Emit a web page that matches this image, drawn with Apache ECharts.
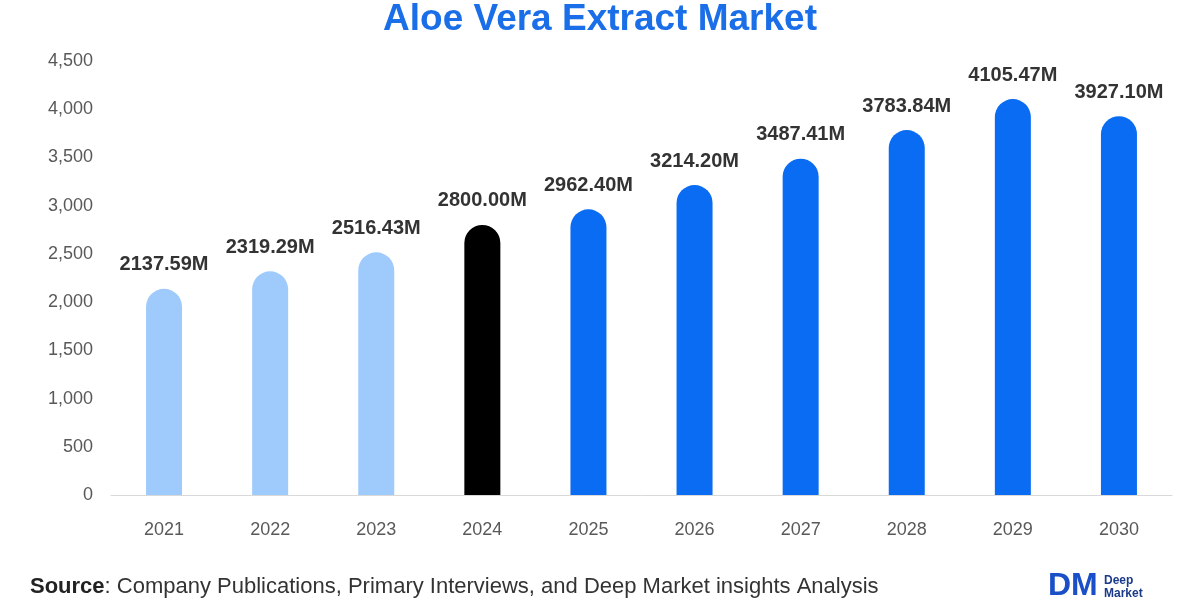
<!DOCTYPE html>
<html>
<head>
<meta charset="utf-8">
<script src="https://cdn.jsdelivr.net/npm/echarts@6/dist/echarts.min.js"></script>
<style>html,body{margin:0;padding:0;background:#fff}#main{width:1200px;height:600px}</style>
</head>
<body>
<div id="main"></div>
<script>
// 年份与市场规模
var years = ['2021', '2022', '2023', '2024', '2025', '2026', '2027', '2028', '2029', '2030']
var values = [2137.59, 2319.29, 2516.43, 2800.00, 2962.40, 3214.20, 3487.41, 3783.84, 4105.47, 3927.10]
var barColors = ['#9ecbfb', '#9ecbfb', '#9ecbfb', '#000000', '#0a6cf2', '#0a6cf2', '#0a6cf2', '#0a6cf2', '#0a6cf2', '#0a6cf2']

var myChart = echarts.init(document.getElementById('main'))
var option = {
    animation: false,
    title: {
        text: 'Aloe Vera Extract Market',
        left: 'center',
        top: -4,
        textStyle: {color: '#1a6fe8', fontSize: 37, fontWeight: 'bold', fontFamily: 'Arial'}
    },
    grid: {left: 111, right: 28, top: 61, bottom: 105},
    xAxis: {
        type: 'category',
        data: years,
        axisLine: {lineStyle: {color: '#d9d9d9'}},
        axisTick: {show: false},
        axisLabel: {color: '#595959', fontSize: 18, margin: 26, fontFamily: 'Arial'}
    },
    yAxis: {
        type: 'value',
        min: 0, max: 4500, interval: 500,
        splitLine: {show: false},
        axisLabel: {
            color: '#595959', fontSize: 18, margin: 18, fontFamily: 'Arial',
            formatter: function (v) { return v.toLocaleString('en-US') }
        }
    },
    series: [{
        type: 'bar',
        barWidth: 36,
        data: values.map(function (v, i) {
            return {value: v, itemStyle: {color: barColors[i], borderRadius: [18, 18, 0, 0]}}
        }),
        label: {
            show: true,
            position: 'top',
            distance: 14,
            color: '#333',
            fontSize: 20,
            fontWeight: 'bold',
            fontFamily: 'Arial',
            formatter: function (p) { return p.value.toFixed(2) + 'M' }
        }
    }],
    graphic: [
        {type: 'text', left: 30, top: 576, style: {
            text: '{b|Source}: Company Publications, Primary Interviews, and Deep Market insights Analysis',
            rich: {b: {fontWeight: 'bold', fontSize: 22, fill: '#222', fontFamily: 'Arial'}},
            fontSize: 22, fill: '#333', fontFamily: 'Arial'
        }},
        {type: 'text', left: 1048, top: 570, style: {text: 'DM', fontSize: 32, fontWeight: 'bold', fill: '#1a4fc8', fontFamily: 'Arial'}},
        {type: 'text', left: 1104, top: 574, style: {text: 'Deep\nMarket', fontSize: 12, fontWeight: 'bold', fill: '#1a3a8a', fontFamily: 'Arial', lineHeight: 13}}
    ]
}
option && myChart.setOption(option)
</script>
</body>
</html>
